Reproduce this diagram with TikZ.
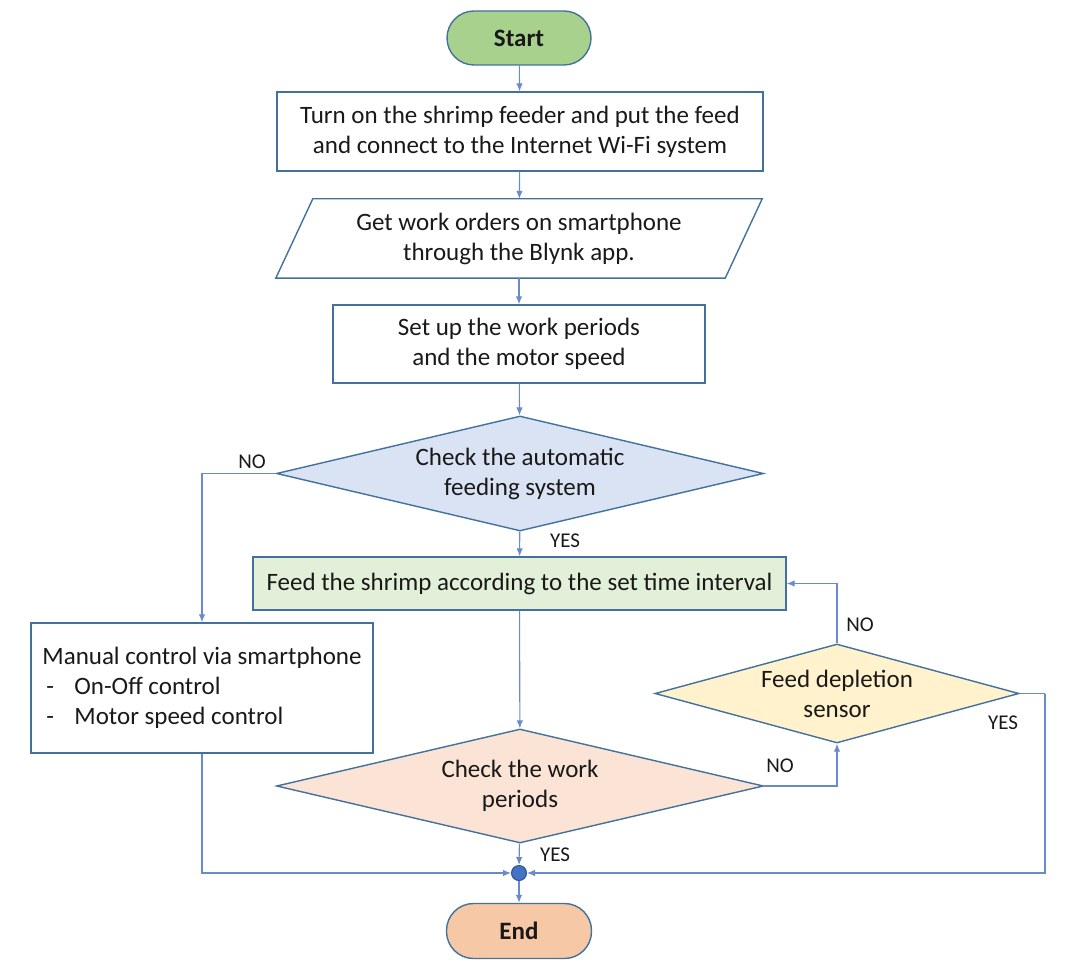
\documentclass[tikz,border=0pt]{standalone}
\usepackage{fontspec}
\setmainfont{Carlito}
\usetikzlibrary{shapes.geometric,arrows.meta}
\definecolor{bord}{HTML}{41719C}
\definecolor{arr}{HTML}{6A8BCB}
\definecolor{startfill}{HTML}{A9D18E}
\definecolor{endfill}{HTML}{F7C8A5}
\definecolor{dafill}{HTML}{DAE3F3}
\definecolor{feedfill}{HTML}{E2F0D9}
\definecolor{dbfill}{HTML}{FBE4D5}
\definecolor{dcfill}{HTML}{FFF2CC}
\definecolor{jfill}{HTML}{4472C4}
\definecolor{jbord}{HTML}{2F528F}
\begin{document}
\begin{tikzpicture}[x=1pt,y=-1pt,
  every node/.style={font=\fontsize{25}{30}\selectfont, text=black!90},
  box/.style={draw=bord, line width=1.4pt, rectangle, align=center, inner sep=0pt},
  term/.style={draw=bord, line width=1.4pt, rectangle, rounded corners=27pt, inner sep=0pt, font=\fontsize{25}{30}\selectfont\bfseries},
  dec/.style={draw=bord, line width=1.4pt, diamond, align=center, inner sep=0pt},
  lab/.style={font=\fontsize{21}{24}\selectfont, inner sep=0pt},
  conn/.style={draw=arr, line width=1.1pt, -{Latex[length=8pt,width=6.5pt]}},
  plain/.style={draw=arr, line width=1.1pt}
]
\useasboundingbox (0,0) rectangle (1068,976);

\node[term, fill=startfill, minimum width=144pt, minimum height=54pt] (start) at (519,38) {Start};
\node[box, minimum width=486pt, minimum height=79pt] (b1) at (520,131.5) {Turn on the shrimp feeder and put the feed\\and connect to the Internet Wi-Fi system};
\node[rectangle, inner sep=0pt, minimum width=486pt, minimum height=79pt, align=center] (p2) at (519,238.5) {Get work orders on smartphone\\through the Blynk app.};
\draw[bord, line width=1.4pt] ([xshift=37pt]p2.north west) -- (p2.north east) -- ([xshift=-37pt]p2.south east) -- (p2.south west) -- cycle;
\node[box, minimum width=372pt, minimum height=78pt] (b3) at (519,344) {Set up the work periods\\and the motor speed};
\node[dec, fill=dafill, shape aspect=4.23, minimum width=487pt, minimum height=115pt] (d1) at (520,473.5) {Check the automatic\\feeding system};
\node[box, fill=feedfill, minimum width=533pt, minimum height=53pt] (feed) at (519.5,583.5) {Feed the shrimp according to the set time interval};
\node[box, minimum width=342pt, minimum height=130pt, align=left] (man) at (202,688) {Manual control via smartphone\\\hspace*{4pt}\makebox[28pt][l]{-}On-Off control\\\hspace*{4pt}\makebox[28pt][l]{-}Motor speed control};
\node[dec, fill=dbfill, shape aspect=4.27, minimum width=487pt, minimum height=114pt] (d2) at (520,786) {Check the work\\periods};
\node[dec, fill=dcfill, shape aspect=3.68, minimum width=364pt, minimum height=99pt] (d3) at (837,693.5) {Feed depletion\\sensor};
\node[circle, draw=jbord, fill=jfill, line width=1pt, minimum size=15pt, inner sep=0pt] (j) at (519,873) {};
\node[term, fill=endfill, minimum width=145pt, minimum height=55pt] (end) at (519,931) {End};
\coordinate (rc) at (1045,693.5);

\draw[conn] (start) -- (b1);
\draw[conn] (b1) -- (p2);
\draw[conn] (p2) -- (b3);
\draw[conn] (b3) -- (d1);
\draw[conn] (d1) -- (feed);
\draw[conn] (feed) -- (d2);
\draw[conn] (d2) -- (j);
\draw[conn] (j) -- (end);
\draw[conn] (d1.west) -| (man.north);
\draw[conn] (man.south) |- (j.west);
\draw[conn] (d2.east) -| (d3.south);
\draw[conn] (d3.north) |- (feed.east);
\draw[plain] (d3.east) -- (rc);
\draw[conn] (rc) |- (j.east);

\node[lab] (nod1) at (252,462) {NO};
\node[lab] (yesd1) at (565,541) {YES};
\node[lab] (nod3) at (860,625) {NO};
\node[lab] (nod2) at (780,766) {NO};
\node[lab] (yesd3) at (1003,723) {YES};
\node[lab] (yesd2) at (555,855) {YES};
\end{tikzpicture}
\end{document}
